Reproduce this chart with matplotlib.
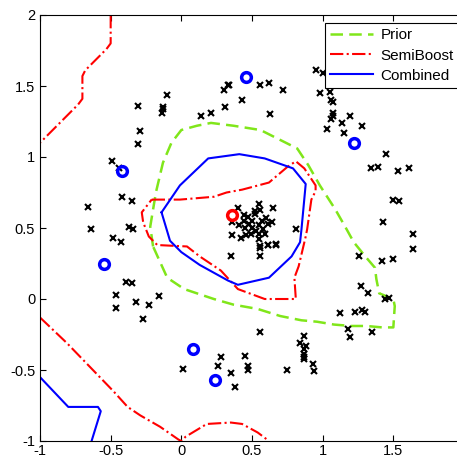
import numpy as np
import matplotlib
matplotlib.use("Agg")
import matplotlib.pyplot as plt

plt.rcParams['font.family'] = ['Liberation Sans', 'DejaVu Sans']

# unlabeled points (crosses)
pts_x = [-0.10, -0.31, -0.13, -0.13, -0.14, -0.29, -0.31, -0.49, -0.44, -0.42,
         -0.35, -0.66, -0.64, -0.37, -0.34, 0.34, 0.33, 0.30, 0.56, 0.62,
         0.72, 0.43, 0.31, 0.21, 0.14, 0.63, 0.65, 0.55, 0.81, 0.95,
         1.00, 0.98, 1.05, 1.06, 1.07, 1.07, 1.07, 1.06, 1.19, 1.14,
         1.03, 1.15, 1.28, 1.45, 1.34, 1.39, 1.53, 1.61, 1.50, 1.54,
         1.43, 1.64, -0.48, -0.43, -0.39, -0.35, -0.46, -0.16, -0.32, -0.23,
         -0.46, -0.27, 0.01, 0.35, 0.56, 0.56, 0.61, 0.67, 0.56, 0.28,
         0.26, 0.35, 0.45, 0.47, 0.47, 0.38, 0.75, 0.84, 0.87, 0.87,
         0.87, 0.87, 0.88, 0.87, 0.93, 0.94, 1.64, 1.26, 1.42, 1.50,
         1.27, 1.32, 1.44, 1.47, 1.12, 1.23, 1.28, 1.30, 1.18, 1.19,
         1.35,
         0.40, 0.56, 0.44, 0.47, 0.52, 0.50, 0.57, 0.61, 0.64, 0.36,
         0.41, 0.45, 0.50, 0.55, 0.58, 0.36, 0.42, 0.46, 0.49, 0.55,
         0.59, 0.55, 0.56, 0.61, 0.67, 0.52, 0.48, 0.53, 0.44, 0.60]
pts_y = [1.44, 1.36, 1.35, 1.34, 1.31, 1.18, 1.09, 0.97, 0.92, 0.72,
         0.69, 0.65, 0.49, 0.51, 0.49, 1.51, 1.51, 1.47, 1.51, 1.52,
         1.47, 1.40, 1.35, 1.31, 1.29, 1.30, 0.64, 0.67, 0.49, 1.61,
         1.59, 1.45, 1.46, 1.40, 1.39, 1.31, 1.29, 1.27, 1.29, 1.24,
         1.20, 1.17, 1.22, 1.02, 0.92, 0.93, 0.90, 0.92, 0.70, 0.69,
         0.54, 0.46, 0.43, 0.40, 0.12, 0.11, 0.03, 0.02, -0.02, -0.04,
         -0.06, -0.14, -0.49, 0.30, 0.30, 0.36, 0.38, 0.39, -0.23, -0.41,
         -0.47, -0.52, -0.40, -0.47, -0.50, -0.62, -0.50, -0.31, -0.35, -0.39,
         -0.42, -0.26, -0.33, -0.41, -0.46, -0.51, 0.35, 0.30, 0.27, 0.28,
         0.09, 0.04, 0.00, 0.01, -0.10, -0.09, -0.08, -0.09, -0.21, -0.27,
         -0.23,
         0.64, 0.63, 0.59, 0.58, 0.60, 0.55, 0.55, 0.53, 0.54, 0.54,
         0.52, 0.50, 0.50, 0.52, 0.49, 0.45, 0.43, 0.45, 0.46, 0.46,
         0.46, 0.42, 0.37, 0.38, 0.38, 0.62, 0.53, 0.48, 0.55, 0.57]

# labeled points
lab_blue_x = [-0.42, 0.46, 1.22, -0.55, 0.08, 0.24]
lab_blue_y = [0.90, 1.56, 1.10, 0.25, -0.35, -0.57]
lab_red_x = [0.36]
lab_red_y = [0.59]

# Prior boundary (green dashed)
prior_x = [-0.20, -0.22, -0.18, -0.13, -0.07, 0.00, 0.11, 0.21, 0.37, 0.56,
           0.72, 0.82, 0.90, 0.98, 1.09, 1.17, 1.22, 1.31, 1.37, 1.38,
           1.40, 1.50, 1.51, 1.50, 1.42, 1.31, 1.20, 1.08, 0.96, 0.85,
           0.70, 0.54, 0.37, 0.23, 0.02, -0.10, -0.15, -0.20]
prior_y = [0.37, 0.51, 0.75, 0.96, 1.10, 1.19, 1.22, 1.24, 1.22, 1.19,
           1.11, 1.06, 0.94, 0.80, 0.63, 0.49, 0.40, 0.29, 0.22, 0.14,
           0.04, 0.00, -0.05, -0.20, -0.20, -0.19, -0.19, -0.18, -0.16, -0.15,
           -0.12, -0.07, -0.04, 0.00, 0.07, 0.15, 0.26, 0.37]

# SemiBoost boundary (red dash-dot), three pieces
semi1_x = [-0.50, -0.50, -0.53, -0.68, -0.70, -0.70, -0.73, -1.00]
semi1_y = [2.00, 1.80, 1.76, 1.61, 1.57, 1.41, 1.37, 1.10]
semi2_x = [-1.00, -0.81, -0.48, -0.38, -0.29, -0.15, -0.02, 0.00, 0.03, 0.18,
           0.35, 0.43, 0.54, 0.62]
semi2_y = [-0.13, -0.31, -0.65, -0.76, -0.82, -0.90, -0.99, -1.00, -0.97, -0.88,
           -0.87, -0.88, -0.94, -1.00]
semi3_x = [-0.21, -0.01, 0.23, 0.32, 0.43, 0.62, 0.75, 0.81, 0.87, 0.95,
           0.95, 0.92, 0.89, 0.88, 0.83, 0.80, 0.81, 0.59, 0.40, 0.28,
           0.13, 0.04, -0.17, -0.23, -0.27, -0.28, -0.21]
semi3_y = [0.70, 0.70, 0.72, 0.75, 0.77, 0.82, 0.93, 0.97, 0.92, 0.80,
           0.76, 0.70, 0.49, 0.44, 0.23, 0.15, 0.00, 0.00, 0.07, 0.20,
           0.30, 0.37, 0.38, 0.44, 0.54, 0.61, 0.70]

# Combined boundary (blue solid), two pieces
comb1_x = [-0.14, -0.01, 0.19, 0.41, 0.59, 0.79, 0.88, 0.85, 0.84, 0.78,
           0.62, 0.40, 0.33, 0.13, 0.00, -0.08, -0.14]
comb1_y = [0.61, 0.80, 0.99, 1.02, 0.99, 0.92, 0.81, 0.49, 0.40, 0.30,
           0.15, 0.10, 0.13, 0.24, 0.33, 0.41, 0.61]
comb2_x = [-1.00, -0.80, -0.59, -0.57, -0.635]
comb2_y = [-0.55, -0.76, -0.76, -0.79, -1.00]

xticks = [-1, -0.5, 0, 0.5, 1, 1.5]
yticks = [-1, -0.5, 0, 0.5, 1, 1.5, 2]

fig = plt.figure(figsize=(4.57, 4.59), dpi=100)
ax = fig.add_axes([40/457, 18/459, 424/457, 426/459])

green = '#80e61a'
ax.plot(prior_x, prior_y, '--', color=green, lw=1.8, dashes=(5, 2.5), label='Prior')
ax.plot(semi3_x, semi3_y, '-.', color='red', lw=1.5, label='SemiBoost')
ax.plot(semi1_x, semi1_y, '-.', color='red', lw=1.5)
ax.plot(semi2_x, semi2_y, '-.', color='red', lw=1.5)
ax.plot(comb1_x, comb1_y, '-', color='blue', lw=1.5, label='Combined')
ax.plot(comb2_x, comb2_y, '-', color='blue', lw=1.5)

ax.plot(pts_x, pts_y, 'x', color='black', ms=4.5, mew=1.5, ls='none')
ax.plot(lab_blue_x, lab_blue_y, 'o', mfc='none', mec='blue', ms=7, mew=2.5, ls='none')
ax.plot(lab_red_x, lab_red_y, 'o', mfc='none', mec='red', ms=7, mew=2.5, ls='none')

ax.set_xlim(-1, 2)
ax.set_ylim(-1, 2)
ax.set_xticks(xticks)
ax.set_xticklabels([f'{t:g}' for t in xticks])
ax.set_yticks(yticks)
ax.set_yticklabels([f'{t:g}' for t in yticks])
ax.tick_params(direction='in', top=True, right=True, length=4, labelsize=10.5)
ax.tick_params(axis='x', pad=2)
for s in ax.spines.values():
    s.set_linewidth(0.8)

leg = ax.legend(loc='upper right', bbox_to_anchor=(0.988, 0.981), fontsize=11,
                fancybox=False, edgecolor='black', framealpha=1, handlelength=2.8,
                borderpad=0.35, labelspacing=0.4, handletextpad=0.5,
                borderaxespad=0)
leg.get_frame().set_linewidth(0.8)

fig.savefig('out.png', dpi=100)
